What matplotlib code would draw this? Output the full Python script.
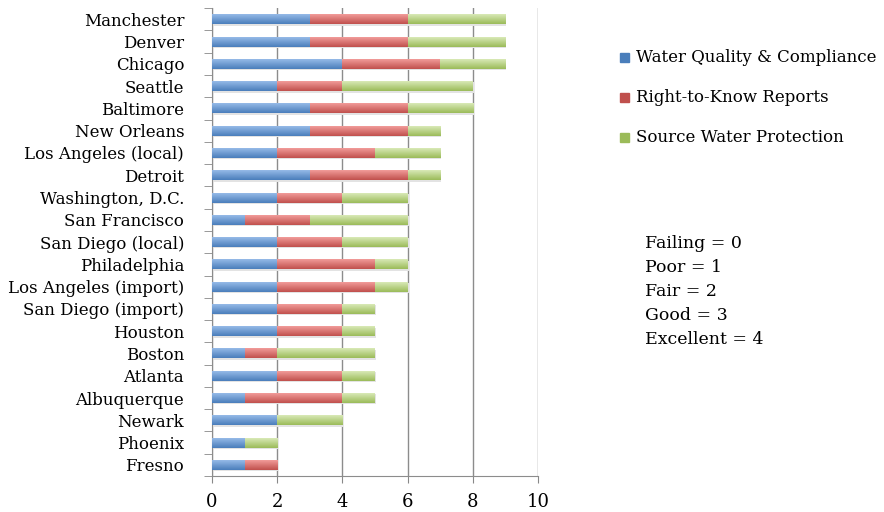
import matplotlib.pyplot as plt
import numpy as np
from matplotlib.colors import LinearSegmentedColormap

cities = ["Manchester", "Denver", "Chicago", "Seattle", "Baltimore", "New Orleans",
          "Los Angeles (local)", "Detroit", "Washington, D.C.", "San Francisco",
          "San Diego (local)", "Philadelphia", "Los Angeles (import)", "San Diego (import)",
          "Houston", "Boston", "Atlanta", "Albuquerque", "Newark", "Phoenix", "Fresno"]
quality = [3, 3, 4, 2, 3, 3, 2, 3, 2, 1, 2, 2, 2, 2, 2, 1, 2, 1, 2, 1, 1]
right_to_know = [3, 3, 3, 2, 3, 3, 3, 3, 2, 2, 2, 3, 3, 2, 2, 1, 2, 3, 0, 0, 1]
source = [3, 3, 2, 4, 2, 1, 2, 1, 2, 3, 2, 1, 1, 1, 1, 3, 1, 1, 2, 1, 0]

series_names = ["Water Quality & Compliance", "Right-to-Know Reports", "Source Water Protection"]
scale_text = ["Failing = 0", "Poor = 1", "Fair = 2", "Good = 3", "Excellent = 4"]

# (top, bottom) of the vertical gradient for each series
shades = [("#9dc0ec", "#4a7ebb"), ("#f7a3a1", "#c0504d"), ("#dfeec0", "#9bbb59")]

plt.rcParams['font.family'] = ['DejaVu Serif']

fig = plt.figure(figsize=(8.84, 5.12), dpi=100)
ax = fig.add_axes([0.2398, 0.0703, 0.3688, 0.9137])

y = np.arange(len(cities))
h = 0.45
left = np.zeros(len(cities))
grad = np.linspace(0, 1, 64).reshape(-1, 1)
for vals, (top, bot) in zip([quality, right_to_know, source], shades):
    vals = np.array(vals, dtype=float)
    # faint drop shadow under each bar
    ax.barh(y + 0.06, vals, h, left=left + 0.03, color="#e3e3e3", zorder=2, linewidth=0)
    bars = ax.barh(y, vals, h, left=left, color=bot, zorder=3, linewidth=0)
    cmap = LinearSegmentedColormap.from_list("g", [top, bot])
    for b, v in zip(bars, vals):
        if v <= 0:
            continue
        x0, y0 = b.get_x(), b.get_y()
        im = ax.imshow(grad, cmap=cmap, aspect="auto", zorder=4,
                       extent=(x0, x0 + b.get_width(), y0 + b.get_height(), y0),
                       interpolation="bilinear")
        im.set_clip_path(b)
    left += vals

ax.set_xlim(0, 10)
ax.set_ylim(len(cities) - 0.5, -0.5)
ax.set_xticks(range(0, 11, 2))
ax.set_yticks(y)
ax.set_yticklabels(cities, fontsize=12)
ax.set_yticks(np.arange(-0.5, len(cities), 1), minor=True)
ax.tick_params(axis="y", which="major", length=0, pad=20)
ax.tick_params(axis="y", which="minor", length=6, color="#888888", direction="out")
ax.tick_params(axis="x", length=5, color="#888888", labelsize=13, pad=7)
ax.grid(axis="x", color="#8c8c8c", linewidth=1.0, zorder=0)
ax.set_axisbelow(True)
for s in ["top", "right"]:
    ax.spines[s].set_visible(False)
for s in ["left", "bottom"]:
    ax.spines[s].set_color("#8c8c8c")

# legend drawn as squares + labels
for i, (name, (top, bot)) in enumerate(zip(series_names, shades)):
    yy = 1 - (57 + 40 * i) / 512
    fig.patches.append(plt.Rectangle((620 / 884, yy - 4.5 / 512), 9 / 884, 9 / 512,
                                     transform=fig.transFigure, color=bot, figure=fig))
    fig.text(636 / 884, yy, name, fontsize=12, va="center", ha="left")

for i, t in enumerate(scale_text):
    fig.text(645 / 884, 1 - (243 + 24 * i) / 512, t, fontsize=12.5, va="center", ha="left")

fig.savefig("out.png", dpi=100)
